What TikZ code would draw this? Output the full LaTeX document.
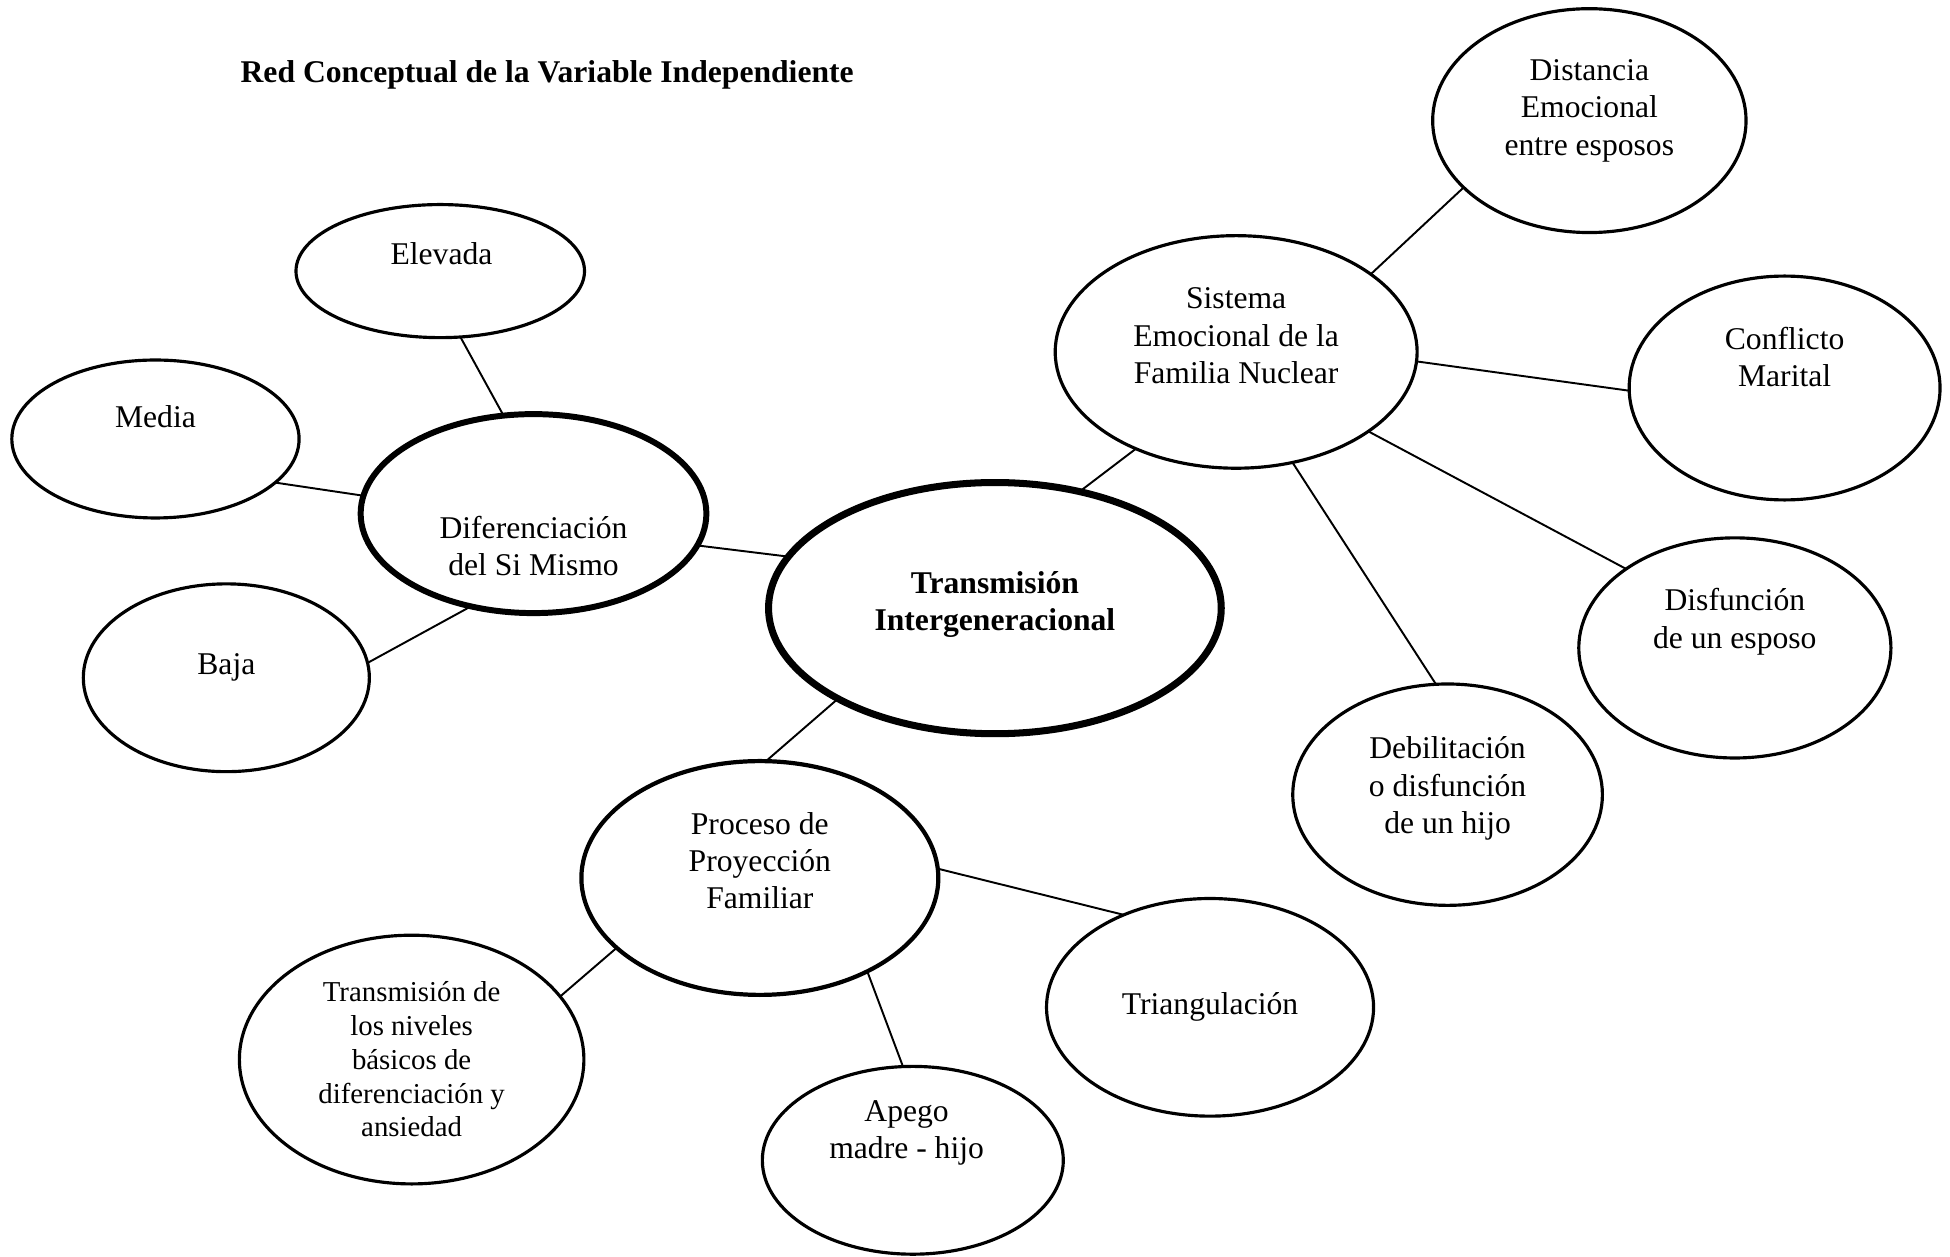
\documentclass[tikz,border=0pt]{standalone}
\usepackage{fontspec}
\setmainfont{Liberation Serif}
\usetikzlibrary{shapes.geometric}
\def\pxu{0.012436cm}
\tikzset{
  bub/.style={draw, ellipse, line width=0.9pt, inner sep=0pt, outer sep=0pt},
  midbub/.style={bub, line width=1.2pt},
  thickbub/.style={bub, line width=1.7pt},
  centerbub/.style={bub, line width=2pt},
  lbl/.style={align=center, inner sep=0pt, font=\fontsize{9}{10.6}\selectfont},
  smalllbl/.style={align=center, inner sep=0pt, font=\fontsize{8.2}{9.6}\selectfont},
  conn/.style={line width=0.55pt},
}
\begin{document}
\begin{tikzpicture}[x=0.012436cm, y=-0.012436cm]
\useasboundingbox (0,0) rectangle (1568,1010);

\node[lbl, font=\fontsize{9}{10.6}\selectfont\bfseries] (title) at (440,60) {Red Conceptual de la Variable Independiente};

% ellipses
\node[bub, minimum width=232*\pxu, minimum height=107*\pxu] (elev) at (354,218) {};
\node[bub, minimum width=231*\pxu, minimum height=127*\pxu] (media) at (125,353) {};
\node[thickbub, minimum width=278*\pxu, minimum height=160*\pxu] (dif) at (429,413) {};
\node[bub, minimum width=230*\pxu, minimum height=151*\pxu] (baja) at (182,545) {};
\node[centerbub, minimum width=364*\pxu, minimum height=202*\pxu] (ti) at (800,489) {};
\node[bub, minimum width=291*\pxu, minimum height=187*\pxu] (sis) at (994,283) {};
\node[bub, minimum width=252*\pxu, minimum height=180*\pxu] (dist) at (1278,97) {};
\node[bub, minimum width=250*\pxu, minimum height=180*\pxu] (conf) at (1435,312) {};
\node[bub, minimum width=251*\pxu, minimum height=177*\pxu] (disf) at (1395,521) {};
\node[bub, minimum width=249*\pxu, minimum height=178*\pxu] (deb) at (1164,639) {};
\node[midbub, minimum width=287*\pxu, minimum height=188*\pxu] (proc) at (611,706) {};
\node[bub, minimum width=277*\pxu, minimum height=200*\pxu] (niv) at (331,852) {};
\node[bub, minimum width=242*\pxu, minimum height=151*\pxu] (apego) at (734,933) {};
\node[bub, minimum width=263*\pxu, minimum height=175*\pxu] (tri) at (973,810) {};

% labels
\node[lbl] (elevT) at (355,204) {Elevada};
\node[lbl] (mediaT) at (125,335) {Media};
\node[lbl] (difT) at (429,439) {Diferenciación\\del Si Mismo};
\node[lbl] (bajaT) at (182,537) {Baja};
\node[lbl, font=\fontsize{9}{10.6}\selectfont\bfseries] (tiT) at (800,486) {Transmisión\\Intergeneracional};
\node[lbl] (sisT) at (994,270) {Sistema\\Emocional de la\\Familia Nuclear};
\node[lbl] (distT) at (1278,89) {Distancia\\Emocional\\entre esposos};
\node[lbl] (confT) at (1435,287) {Conflicto\\Marital};
\node[lbl] (disfT) at (1395,500) {Disfunción\\de un esposo};
\node[lbl] (debT) at (1164,634) {Debilitación\\o disfunción\\de un hijo};
\node[lbl] (procT) at (611,692) {Proceso de\\Proyección\\Familiar};
\node[smalllbl] (nivT) at (331,852) {Transmisión de\\los niveles\\básicos de\\diferenciación y\\ansiedad};
\node[lbl] (apegoT) at (729,911) {Apego\\madre - hijo};
\node[lbl] (triT) at (973,810) {Triangulación};

% connectors
\draw[conn] (elev.-73.8) -- (dif.107.1);
\draw[conn] (media.-20) -- (dif.174.2);
\draw[conn] (baja.6.3) -- (dif.-124.5);
\draw[conn] (dif.-11.6) -- (ti.166.7);
\draw[conn] (ti.54.1) -- (sis.-136);
\draw[conn] (ti.-150.4) -- (proc.87.1);
\draw[conn] (sis.30.1) -- (dist.-152.8);
\draw[conn] (sis.-3.2) -- (conf.-179.5);
\draw[conn] (sis.-31.1) -- (disf.144);
\draw[conn] (sis.-63.7) -- (deb.96.6);
\draw[conn] (proc.-154.4) -- (niv.23.8);
\draw[conn] (proc.-41) -- (apego.96.4);
\draw[conn] (proc.3.1) -- (tri.133.7);
\end{tikzpicture}
\end{document}
